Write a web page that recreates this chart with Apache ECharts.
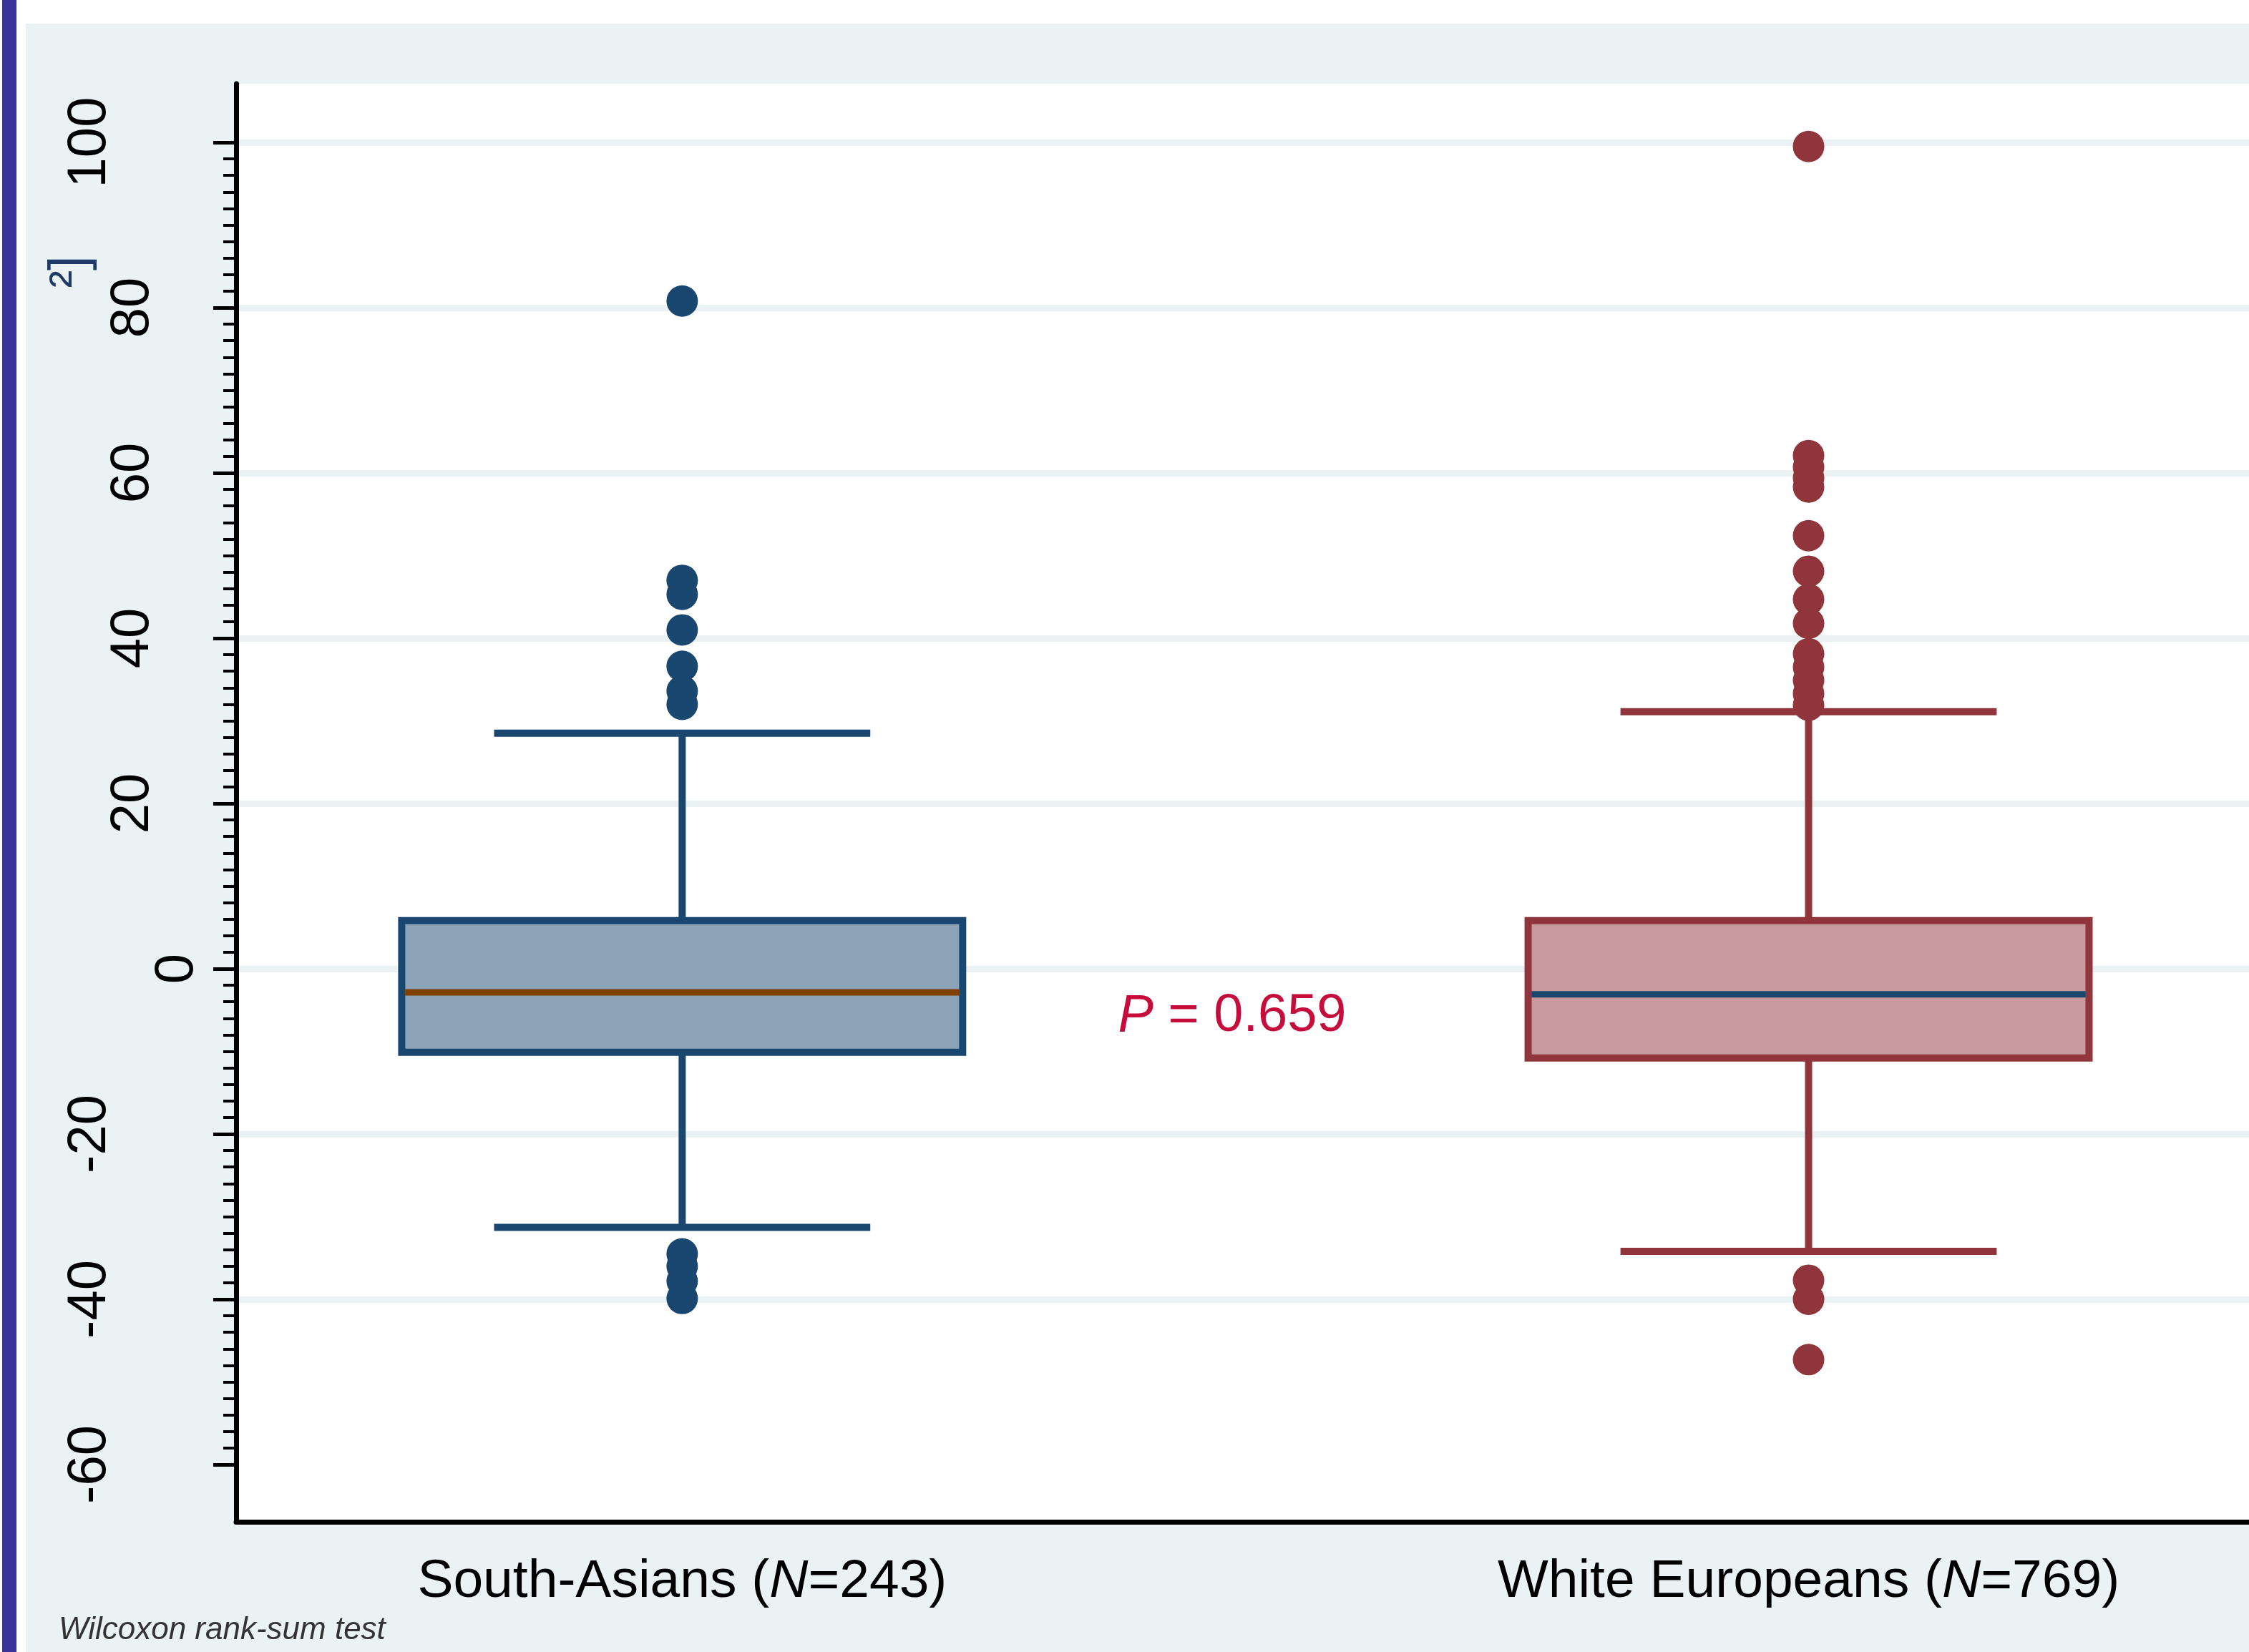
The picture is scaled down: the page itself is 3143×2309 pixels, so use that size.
<!DOCTYPE html>
<html>
<head>
<meta charset="utf-8">
<script src="https://cdn.jsdelivr.net/npm/echarts@6/dist/echarts.min.js"></script>
<style>
html,body{margin:0;padding:0;background:#fff;}
#chart{width:3143px;height:2309px;}
</style>
</head>
<body>
<div id="chart"></div>
<script>
// ---------- data ----------
const categories = ['South-Asians', 'White Europeans'];
const sampleN = [243, 769];
const lowerWhisker = [-31.3, -34.2];
const q1 = [-10.1, -10.8];
const median = [-2.85, -3.1];
const q3 = [5.83, 5.83];
const upperWhisker = [28.5, 31.1];
const outliersSA = [80.8, 47.0, 45.3, 41.0, 36.6, 33.6, 32.0, -34.5, -36.0, -37.8, -39.9];
const outliersWE = [99.5, 62.1, 60.7, 59.4, 58.3, 52.4, 48.1, 44.7, 41.8, 38.1, 36.5, 34.9, 33.3, 31.9, -37.7, -40.0, -47.3];
const yTicks = [-60, -40, -20, 0, 20, 40, 60, 80, 100];
const pValue = ['0.659'];
const footnote = ['Wilcoxon rank-sum test'];

// ---------- styles ----------
const FONT = "'Liberation Sans', Arial, Helvetica, sans-serif";
const NAVY = '#1A476F', MAROON = '#90353B';
const boxFill = ['#8DA3B7', '#C79A9D'];
const boxStroke = [NAVY, MAROON];
const medianColor = ['#7F4000', NAVY];
const BG = '#EAF2F3';
const X_MIN = 0.604, X_MAX = 2.391;

const boxData = categories.map((c, i) => [i + 1, lowerWhisker[i], q1[i], median[i], q3[i], upperWhisker[i]]);

function renderBox(params, api) {
  const x = api.value(0), lo = api.value(1), b1 = api.value(2), md = api.value(3), b3 = api.value(4), hi = api.value(5);
  const i = params.dataIndex;
  const hb = 0.249, hc = 0.167;
  const tl = api.coord([x - hb, b3]);
  const br = api.coord([x + hb, b1]);
  const line = (a, b, color, w) => ({
    type: 'line',
    shape: { x1: a[0], y1: a[1], x2: b[0], y2: b[1] },
    style: { stroke: color, lineWidth: w, lineCap: 'butt' }
  });
  return {
    type: 'group',
    children: [
      line(api.coord([x, b3]), api.coord([x, hi]), boxStroke[i], 10),
      line(api.coord([x, b1]), api.coord([x, lo]), boxStroke[i], 10),
      {
        type: 'rect',
        shape: { x: tl[0], y: tl[1], width: br[0] - tl[0], height: br[1] - tl[1] },
        style: { fill: boxFill[i], stroke: boxStroke[i], lineWidth: 10 }
      },
      line(api.coord([x - hb + 0.003, md]), api.coord([x + hb - 0.003, md]), medianColor[i], 9),
      line(api.coord([x - hc, hi]), api.coord([x + hc, hi]), boxStroke[i], 10),
      line(api.coord([x - hc, lo]), api.coord([x + hc, lo]), boxStroke[i], 10)
    ]
  };
}

function yLabelAxis(len, margin, withTicks) {
  return {
    type: 'value', gridIndex: 1, min: yTicks[0], max: yTicks[yTicks.length - 1], interval: 20,
    position: 'left', z: 3,
    axisLine: { show: false },
    axisTick: withTicks ? { show: true, inside: false, length: 32, lineStyle: { color: '#000', width: 5 } } : { show: false },
    minorTick: withTicks ? { show: true, splitNumber: 10, length: 18, lineStyle: { color: '#000', width: 4 } } : { show: false },
    splitLine: withTicks ? { show: true, showMinLine: false, showMaxLine: true, lineStyle: { color: BG, width: 9 } } : { show: false },
    axisLabel: {
      rotate: 90, margin: margin, fontSize: 76, fontFamily: FONT, color: '#000',
      formatter: v => (String(v).length === len ? String(v) : '')
    }
  };
}

const chart = echarts.init(document.getElementById('chart'), null, { renderer: 'canvas' });
chart.setOption({
  backgroundColor: BG,
  animation: false,
  grid: [
    { left: 330, top: 117, right: 0, bottom: 182, show: true, backgroundColor: '#fff', borderWidth: 0, z: 0, outerBoundsMode: 'none', containLabel: false },
    { left: 330, top: 199, right: 0, bottom: 262, show: false, outerBoundsMode: 'none', containLabel: false }
  ],
  xAxis: [
    {
      type: 'value', gridIndex: 0, min: X_MIN, max: X_MAX, z: 4,
      axisLine: { show: true, onZero: false, lineStyle: { color: '#000', width: 7 } },
      axisTick: { show: false },
      splitLine: { show: false },
      axisLabel: {
        customValues: [1, 2], margin: 47, fontSize: 75, fontFamily: FONT, color: '#000',
        formatter: v => {
          const i = Math.round(v) - 1;
          return categories[i] ? '{a|' + categories[i] + ' (}{i|N}{a|=' + sampleN[i] + ')}' : '';
        },
        rich: {
          a: { fontSize: 75, fontFamily: FONT, color: '#000' },
          i: { fontSize: 75, fontFamily: FONT, color: '#000', fontStyle: 'italic' }
        }
      }
    },
    { type: 'value', gridIndex: 1, min: X_MIN, max: X_MAX, show: false }
  ],
  yAxis: [
    {
      type: 'value', gridIndex: 0, min: -66.9, max: 107.1, z: 4,
      axisLine: { show: true, onZero: false, lineStyle: { color: '#000', width: 7 } },
      axisTick: { show: false }, axisLabel: { show: false }, splitLine: { show: false }
    },
    yLabelAxis(3, 166, true),
    yLabelAxis(2, 106, false),
    yLabelAxis(1, 44, false)
  ],
  series: [
    {
      type: 'custom', xAxisIndex: 1, yAxisIndex: 1, z: 5,
      renderItem: renderBox, data: boxData, clip: false
    },
    {
      type: 'scatter', xAxisIndex: 1, yAxisIndex: 1, z: 6,
      symbol: 'circle', symbolSize: 44,
      itemStyle: { color: NAVY, opacity: 1 },
      data: outliersSA.map(v => [1, v])
    },
    {
      type: 'scatter', xAxisIndex: 1, yAxisIndex: 1, z: 6,
      symbol: 'circle', symbolSize: 44,
      itemStyle: { color: MAROON, opacity: 1 },
      data: outliersWE.map(v => [2, v])
    }
  ],
  graphic: [
    { type: 'rect', left: 0, top: 0, z: -10, shape: { width: 3143, height: 33 }, style: { fill: '#fff' } },
    { type: 'rect', left: 0, top: 0, z: -10, shape: { width: 36, height: 2309 }, style: { fill: '#fff' } },
    { type: 'rect', left: 3, top: 0, z: -9, shape: { width: 20, height: 2309 }, style: { fill: '#3A349A' } },
    {
      type: 'text', x: 100, y: 380, rotation: Math.PI / 2, z: 10,
      style: { text: '²]', fontSize: 74, fontFamily: FONT, fill: '#1F3A66', align: 'center', verticalAlign: 'middle' }
    },
    {
      type: 'text', x: 1722, y: 1421, z: 10,
      style: {
        text: '{i|P} = ' + pValue[0], fontSize: 74, fontFamily: FONT, fill: '#C60C3A',
        align: 'center', verticalAlign: 'middle',
        rich: { i: { fontStyle: 'italic', fontSize: 74, fontFamily: FONT, fill: '#C60C3A' } }
      }
    },
    {
      type: 'text', x: 82, y: 2279, z: 10,
      style: { text: footnote[0], fontSize: 44, fontFamily: FONT, fontStyle: 'italic', fill: '#333', align: 'left', verticalAlign: 'middle' }
    }
  ]
});
</script>
</body>
</html>
